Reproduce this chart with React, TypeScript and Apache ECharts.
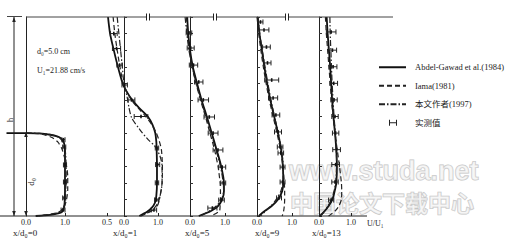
import React, { useEffect, useRef } from 'react';
import * as echarts from 'echarts';

// ---------- data (u/U1 versus height in cm) ----------
const stationNames = ['0', '1', '5', '9', '13'];
const legendNames = ['Abdel-Gawad et al.(1984)', 'Iama(1981)', '本文作者(1997)', '实测值'];
const infoDepth = 'd₀=5.0 cm';
const infoVel = 'U₁=21.88 cm/s';

// panel x/d0 = 0  ([u, y])
const abdel0 = [[-0.5, 5], [0, 5], [0.35, 4.98], [0.62, 4.9], [0.8, 4.8], [0.9, 4.68], [0.96, 4.5], [0.99, 4.2], [1, 3.6], [1, 2.5], [1, 1.5], [0.99, 0.8], [0.97, 0.45], [0.92, 0.24], [0.82, 0.16], [0.62, 0.07], [0.25, 0]];
const iama0 = [[0, 5], [0.3, 4.97], [0.5, 4.88], [0.68, 4.72], [0.82, 4.45], [0.92, 4.05], [0.98, 3.6], [1.04, 3.0], [1.07, 2.4], [1.07, 1.6], [1.04, 1.0], [0.98, 0.55], [0.85, 0.25], [0.55, 0.08], [0.25, 0]];
const author0 = [[0, 5], [0.4, 4.97], [0.68, 4.88], [0.85, 4.72], [0.94, 4.5], [0.99, 4.2], [1.02, 3.6], [1.03, 2.6], [1.02, 1.6], [1.0, 0.9], [0.95, 0.45], [0.85, 0.22], [0.6, 0.08], [0.28, 0]];
const meas0 = [[0.96, 4.6, 0.04], [0.98, 4.16, 0.04], [1.0, 3.08, 0.04], [1.0, 2.05, 0.04], [0.98, 1.09, 0.04], [0.95, 0.36, 0.05]];

// panel x/d0 = 1
const yLevels1 = [12, 11, 10, 9, 8, 7.5, 7, 6.5, 6, 5.5, 5, 4.5, 4, 3, 2, 1.2, 0.8, 0.5, 0.25, 0];
const abdel1U = [-0.47, -0.41, -0.3, -0.18, -0.04, 0.08, 0.24, 0.45, 0.7, 0.84, 0.92, 0.95, 0.96, 0.97, 0.97, 0.95, 0.91, 0.82, 0.68, 0.45];
const iama1U = [-0.32, -0.27, -0.2, -0.12, -0.02, 0.08, 0.22, 0.42, 0.64, 0.82, 0.95, 1.04, 1.1, 1.13, 1.12, 1.06, 1.0, 0.9, 0.75, 0.5];
const author1Y = [12, 11, 10, 9, 8, 7.2, 6.5, 5.9, 5.2, 4.6, 4.2, 3.6, 3, 2, 1.2, 0.7, 0.4, 0.15, 0];
const author1U = [-0.2, -0.15, -0.1, -0.05, 0.0, 0.09, 0.15, 0.23, 0.47, 0.71, 0.91, 1.06, 1.12, 1.12, 1.06, 1.0, 0.88, 0.65, 0.48];
const meas1 = [[-0.3, 11.0, 0.1], [-0.22, 10.1, 0.12], [-0.13, 9.1, 0.08], [0.02, 7.9, 0.08], [0.22, 7.0, 0.1], [0.5, 6.0, 0.2], [0.97, 4.1, 0.05], [0.99, 3.1, 0.06], [0.97, 2.0, 0.05], [0.96, 0.97, 0.06], [0.88, 0.36, 0.08]];

// panels x/d0 = 5, 9, 13 share heights
const yLevels = [12, 11, 10, 9, 8, 7, 6, 5, 4, 3, 2, 1.5, 1, 0.6, 0.3, 0];
const abdel2U = [-0.08, -0.05, 0.0, 0.08, 0.2, 0.33, 0.48, 0.62, 0.76, 0.89, 0.97, 0.97, 0.92, 0.8, 0.6, 0.25];
const iama2U = [-0.1, -0.07, -0.02, 0.06, 0.17, 0.3, 0.44, 0.57, 0.7, 0.8, 0.86, 0.87, 0.87, 0.86, 0.84, 0.6];
const author2U = [-0.14, -0.09, -0.03, 0.06, 0.18, 0.31, 0.46, 0.6, 0.74, 0.87, 0.95, 0.96, 0.9, 0.75, 0.55, 0.3];
const meas2 = [[-0.03, 11.04, 0.08], [0.02, 10.13, 0.1], [0.1, 9.1, 0.12], [0.25, 8.08, 0.12], [0.38, 7.0, 0.15], [0.55, 5.97, 0.15], [0.66, 5.0, 0.14], [0.8, 3.98, 0.14], [0.92, 2.95, 0.1], [0.95, 1.99, 0.07], [0.9, 0.96, 0.08], [0.64, 0.48, 0.13]];

const abdel3U = [0.02, 0.07, 0.14, 0.21, 0.29, 0.38, 0.49, 0.6, 0.69, 0.74, 0.75, 0.72, 0.6, 0.42, 0.22, 0.05];
const iama3U = [0.0, 0.05, 0.11, 0.18, 0.26, 0.35, 0.46, 0.57, 0.67, 0.74, 0.78, 0.79, 0.79, 0.78, 0.76, 0.72];
const author3U = [0.03, 0.08, 0.15, 0.23, 0.31, 0.4, 0.5, 0.61, 0.7, 0.75, 0.74, 0.68, 0.55, 0.4, 0.25, 0.1];
const meas3 = [[0.1, 11.7, 0.07], [0.2, 11.22, 0.14], [0.27, 10.19, 0.11], [0.3, 9.23, 0.1], [0.42, 8.2, 0.2], [0.46, 7.12, 0.13], [0.54, 6.09, 0.11], [0.6, 5.07, 0.1], [0.66, 4.16, 0.08], [0.68, 3.8, 0.08], [0.73, 2.95, 0.07], [0.73, 2.05, 0.07], [0.63, 1.09, 0.07]];

const abdel4U = [0.24, 0.27, 0.31, 0.35, 0.38, 0.41, 0.45, 0.5, 0.54, 0.56, 0.54, 0.49, 0.42, 0.3, 0.18, 0.03];
const iama4U = [0.2, 0.23, 0.27, 0.31, 0.35, 0.39, 0.44, 0.5, 0.57, 0.64, 0.7, 0.71, 0.7, 0.62, 0.5, 0.3];
const author4U = [0.34, 0.35, 0.37, 0.39, 0.41, 0.44, 0.47, 0.51, 0.54, 0.55, 0.52, 0.47, 0.39, 0.28, 0.17, 0.05];
const meas4 = [[0.38, 11.1, 0.15], [0.42, 10.0, 0.13], [0.44, 9.0, 0.12], [0.46, 8.0, 0.12], [0.47, 7.0, 0.1], [0.5, 6.0, 0.1], [0.52, 5.0, 0.1], [0.55, 4.0, 0.12], [0.52, 3.1, 0.12], [0.5, 2.05, 0.1], [0.38, 0.96, 0.08]];

// ---------- layout ----------
const SERIF = "'Liberation Serif', 'DejaVu Serif', serif";
const CJK = "'Liberation Serif', 'Noto Sans CJK SC', serif";
const TOP = 17;
const BOTTOM = 216;
const panels = [
  { x0: 26, s: 39, min: -0.6, max: 1.2, ticks: [0, 1], yTicks: false, nameX: 13 },
  { x0: 124, s: 34, min: -0.6, max: 1.3, ticks: [-0.5, 0, 1], yTicks: true, nameX: 113 },
  { x0: 190, s: 35, min: -0.2, max: 1.2, ticks: [0, 1], yTicks: true, nameX: 185 },
  { x0: 257, s: 35, min: -0.2, max: 1.2, ticks: [0, 1], yTicks: true, nameX: 255 },
  { x0: 319, s: 32, min: -0.2, max: 1.2, ticks: [0, 1], yTicks: true, nameX: 312 },
];

const zip = (u: number[], y: number[]) => u.map((v, i) => [v, y[i]]);
const curves = [
  { a: abdel0, b: iama0, c: author0, m: meas0 },
  { a: zip(abdel1U, yLevels1), b: zip(iama1U, yLevels1), c: zip(author1U, author1Y), m: meas1 },
  { a: zip(abdel2U, yLevels), b: zip(iama2U, yLevels), c: zip(author2U, yLevels), m: meas2 },
  { a: zip(abdel3U, yLevels), b: zip(iama3U, yLevels), c: zip(author3U, yLevels), m: meas3 },
  { a: zip(abdel4U, yLevels), b: zip(iama4U, yLevels), c: zip(author4U, yLevels), m: meas4 },
];

const lineStyles = [
  { color: '#111', width: 1.8, type: 'solid' },
  { color: '#222', width: 1.2, type: [5, 3] },
  { color: '#222', width: 1.2, type: [6, 2, 1.5, 2] },
];

function buildOption() {
  const series: any[] = [];
  curves.forEach((c, i) => {
    [c.a, c.b, c.c].forEach((d, k) => {
      series.push({
        type: 'line',
        name: legendNames[k],
        xAxisIndex: i,
        yAxisIndex: i,
        data: d,
        symbol: 'none',
        smooth: 0.25,
        clip: false,
        lineStyle: lineStyles[k],
        itemStyle: { color: lineStyles[k].color },
        z: 3,
      });
    });
    series.push({
      type: 'custom',
      name: legendNames[3],
      xAxisIndex: i,
      yAxisIndex: i,
      data: c.m,
      encode: { x: 0, y: 1 },
      clip: false,
      z: 4,
      itemStyle: { color: '#222' },
      renderItem: (params: any, api: any) => {
        const u = api.value(0);
        const y = api.value(1);
        const e = api.value(2);
        const p1 = api.coord([u - e, y]);
        const p2 = api.coord([u + e, y]);
        const pc = api.coord([u, y]);
        const st = { stroke: '#222', lineWidth: 1 };
        const cap = 2.5;
        return {
          type: 'group',
          children: [
            { type: 'line', shape: { x1: p1[0], y1: p1[1], x2: p2[0], y2: p2[1] }, style: st },
            { type: 'line', shape: { x1: p1[0], y1: p1[1] - cap, x2: p1[0], y2: p1[1] + cap }, style: st },
            { type: 'line', shape: { x1: p2[0], y1: p2[1] - cap, x2: p2[0], y2: p2[1] + cap }, style: st },
            { type: 'line', shape: { x1: pc[0], y1: pc[1] - 1.8, x2: pc[0], y2: pc[1] + 1.8 }, style: { stroke: '#111', lineWidth: 1.6 } },
          ],
        };
      },
    });
  });

  const graphics: any[] = [];
  // watermark
  graphics.push({
    type: 'text', z: 0, silent: true,
    style: { text: 'www.studa.net', x: 289, y: 171, verticalAlign: 'middle', font: "bold 27px 'Liberation Sans', sans-serif", fill: 'rgba(240,240,240,0.6)', stroke: '#c4c4c4', lineWidth: 1 },
  });
  graphics.push({
    type: 'text', z: 0, silent: true,
    style: { text: '中国论文下载中心', x: 290, y: 202, verticalAlign: 'middle', font: "bold 23px 'Noto Sans CJK SC', sans-serif", fill: 'rgba(240,240,240,0.6)', stroke: '#c4c4c4', lineWidth: 1 },
  });
  // frame lines
  const ls = { stroke: '#222', lineWidth: 1 };
  graphics.push({ type: 'line', z: 5, shape: { x1: 26, y1: TOP, x2: 393, y2: TOP }, style: { stroke: '#444', lineWidth: 1 } });
  graphics.push({ type: 'line', z: 5, shape: { x1: 0, y1: BOTTOM, x2: 367, y2: BOTTOM }, style: ls });
  [148, 215, 287].forEach((bx) => {
    graphics.push({ type: 'rect', z: 6, shape: { x: bx - 1.5, y: TOP - 3, width: 3, height: 6 }, style: { fill: '#fff' } });
    graphics.push({ type: 'line', z: 7, shape: { x1: bx - 1.5, y1: TOP - 3.5, x2: bx - 1.5, y2: TOP + 3.5 }, style: ls });
    graphics.push({ type: 'line', z: 7, shape: { x1: bx + 1.5, y1: TOP - 3.5, x2: bx + 1.5, y2: TOP + 3.5 }, style: ls });
  });
  // dimension lines h and d0
  graphics.push({ type: 'line', z: 5, shape: { x1: 14, y1: TOP, x2: 14, y2: BOTTOM }, style: ls });
  graphics.push({ type: 'line', z: 5, shape: { x1: 7, y1: TOP - 0.5, x2: 22, y2: TOP - 0.5 }, style: { stroke: '#444', lineWidth: 1 } });
  const arrow = (x: number, y: number, dir: number) => ({
    type: 'polygon', z: 6,
    shape: { points: [[x, y], [x - 1.8, y + dir * 5], [x + 1.8, y + dir * 5]] },
    style: { fill: '#222' },
  });
  graphics.push(arrow(14, TOP, 1));
  graphics.push(arrow(14, BOTTOM, -1));
  graphics.push(arrow(26, 132, 1));
  graphics.push(arrow(26, BOTTOM, -1));
  graphics.push({ type: 'text', z: 6, x: 10, y: 120, rotation: Math.PI / 2, style: { text: 'h', font: `9px ${SERIF}`, fill: '#222', align: 'center', verticalAlign: 'middle' } });
  graphics.push({ type: 'text', z: 6, x: 31, y: 182, rotation: Math.PI / 2, style: { text: 'd₀', font: `9px ${SERIF}`, fill: '#222', align: 'center', verticalAlign: 'middle' } });
  // info texts
  graphics.push({ type: 'text', z: 6, style: { text: infoDepth, x: 37, y: 51, font: `8px ${SERIF}`, fill: '#222', verticalAlign: 'middle' } });
  graphics.push({ type: 'text', z: 6, style: { text: infoVel, x: 37, y: 70, font: `8px ${SERIF}`, fill: '#222', verticalAlign: 'middle' } });
  // station names
  panels.forEach((p, i) => {
    graphics.push({ type: 'text', z: 6, style: { text: `x/d₀=${stationNames[i]}`, x: p.nameX, y: 233, font: `9px ${SERIF}`, fill: '#222', verticalAlign: 'middle' } });
  });
  graphics.push({ type: 'text', z: 6, style: { text: 'U/U₁', x: 367, y: 223, font: `8px ${SERIF}`, fill: '#222', verticalAlign: 'middle' } });

  const hideSymbol = { color: 'transparent', borderWidth: 0, opacity: 0 };

  return {
    animation: false,
    backgroundColor: '#fff',
    grid: panels.map((p) => ({ left: p.x0 + p.min * p.s, width: (p.max - p.min) * p.s, top: TOP, height: BOTTOM - TOP })),
    xAxis: panels.map((p, i) => ({
      gridIndex: i,
      type: 'value',
      min: p.min,
      max: p.max,
      axisLine: { show: false },
      splitLine: { show: false },
      axisTick: { show: true, inside: true, length: 3, customValues: p.ticks, lineStyle: { color: '#222' } },
      axisLabel: {
        show: true,
        customValues: p.ticks,
        formatter: (v: number) => Math.abs(v).toFixed(1),
        fontSize: 8,
        fontFamily: SERIF,
        color: '#222',
        margin: 2,
      },
    })),
    yAxis: panels.map((p, i) => ({
      gridIndex: i,
      type: 'value',
      min: 0,
      max: 12,
      interval: 1,
      axisLine: { show: true, onZero: true, lineStyle: { color: '#222', width: 1 } },
      axisTick: { show: p.yTicks, inside: true, length: 3, lineStyle: { color: '#333' } },
      axisLabel: { show: false },
      splitLine: { show: false },
    })),
    legend: {
      orient: 'vertical',
      left: 373,
      top: 58,
      itemWidth: 27,
      itemHeight: 8,
      itemGap: 10,
      selectedMode: false,
      textStyle: { fontFamily: CJK, fontSize: 8.5, color: '#222', padding: [0, 0, 0, 4] },
      data: [
        { name: legendNames[0], itemStyle: hideSymbol },
        { name: legendNames[1], itemStyle: hideSymbol },
        { name: legendNames[2], itemStyle: hideSymbol },
        { name: legendNames[3], icon: 'path://M0,0h0.01v0.01h-0.01z M10,1h1v6h-1z M11,3.5h6v1h-6z M17,1h1v6h-1z M27,8h0.01v0.01h-0.01z' },
      ],
    },
    graphic: { elements: graphics },
    series,
  };
}

export default function App() {
  const ref = useRef<HTMLDivElement>(null);
  useEffect(() => {
    const chart = echarts.init(ref.current!, null, { renderer: 'svg' });
    chart.setOption(buildOption() as any);
    return () => chart.dispose();
  }, []);
  return (
    <div
      ref={ref}
      style={{ position: 'fixed', left: 0, top: 0, width: 507, height: 241, background: '#fff' }}
    />
  );
}
